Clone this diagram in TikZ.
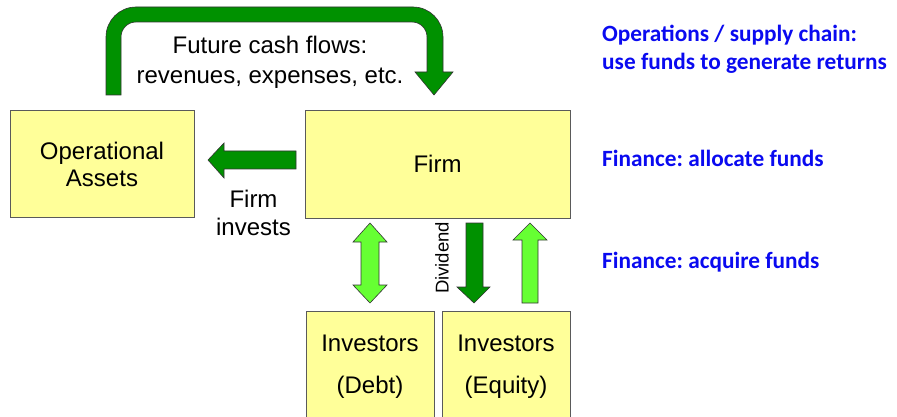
\documentclass[tikz,border=0pt]{standalone}
\usepackage{fontspec}
\setmainfont{Liberation Sans}
\newfontfamily\notefont{Carlito}
\frenchspacing
\begin{document}
\definecolor{boxfill}{RGB}{255,255,153}
\definecolor{boxline}{RGB}{90,90,90}
\definecolor{flowgreen}{RGB}{0,145,0}
\definecolor{fundgreen}{RGB}{102,255,51}
\definecolor{noteblue}{RGB}{10,10,240}
\begin{tikzpicture}[x=1pt,y=-1pt,
  block/.style={draw=boxline,line width=1pt,fill=boxfill},
  maintext/.style={inner sep=0pt,align=center,font=\fontsize{24}{27}\selectfont},
  darkflow/.style={fill=flowgreen,draw=black!80,line width=0.6pt,line join=miter},
  lightflow/.style={fill=fundgreen,draw=black!80,line width=0.6pt,line join=miter},
  note/.style={inner sep=0pt,anchor=base west,text=noteblue,font=\notefont\bfseries\fontsize{23.3}{28}\selectfont}]
\useasboundingbox (0,0) rectangle (897,417);

% boxes
\path[block] (10,111) rectangle (194,217);
\node[maintext] (oa) at (102,164) {Operational\\Assets};
\path[block] (305,111) rectangle (570,218);
\node[maintext] (firm) at (437.5,164) {Firm};
\path[block] (306,311) rectangle (434,430);
\path[block] (442,311) rectangle (570,430);
\node[maintext,font=\fontsize{24}{42}\selectfont] (debt) at (370,367) {Investors\\(Debt)};
\node[maintext,font=\fontsize{24}{42}\selectfont] (equity) at (506,367) {Investors\\(Equity)};

% future cash flows: curved arrow from the assets back to the firm
\path[darkflow] (106,95) [rounded corners=30pt] -- (106,7) -- (443,7)
  [sharp corners] -- (443,72) -- (453,72) -- (434,95) -- (415,72) -- (427,72)
  [rounded corners=15pt] -- (427,22) -- (121,22) [sharp corners] -- (121,95) -- cycle;
\node[maintext,font=\fontsize{24}{30}\selectfont] (fcf) at (270,62) {Future cash flows:\\revenues, expenses, etc.};

% firm invests in operational assets
\path[darkflow] (296,151) -- (224,151) -- (224,143) -- (208,160) -- (224,178)
  -- (224,169) -- (296,169) -- cycle;
\node[maintext,font=\fontsize{24}{28}\selectfont] (inv) at (253.5,213) {Firm\\invests};

% debt: two-way flow
\path[lightflow] (370,223) -- (387,242) -- (379,242) -- (379,285) -- (387,285)
  -- (370,303) -- (353,285) -- (361,285) -- (361,242) -- (353,242) -- cycle;

% equity: dividend down, capital up
\path[darkflow] (466,223) -- (483,223) -- (483,287) -- (490,287) -- (474,303)
  -- (457,287) -- (466,287) -- cycle;
\node[inner sep=0pt,rotate=90,font=\fontsize{18.5}{20}\selectfont] (div) at (442,258) {Dividend};
\path[lightflow] (530,223) -- (547,240) -- (538,240) -- (538,303) -- (522,303)
  -- (522,240) -- (513,240) -- cycle;

% side notes
\node[note] (ops1) at (602,42) {Operations / supply chain:};
\node[note] (ops2) at (602,70) {use funds to generate returns};
\node[note] (alloc) at (602,167) {Finance: allocate funds};
\node[note] (acq) at (602,268) {Finance: acquire funds};
\end{tikzpicture}
\end{document}
